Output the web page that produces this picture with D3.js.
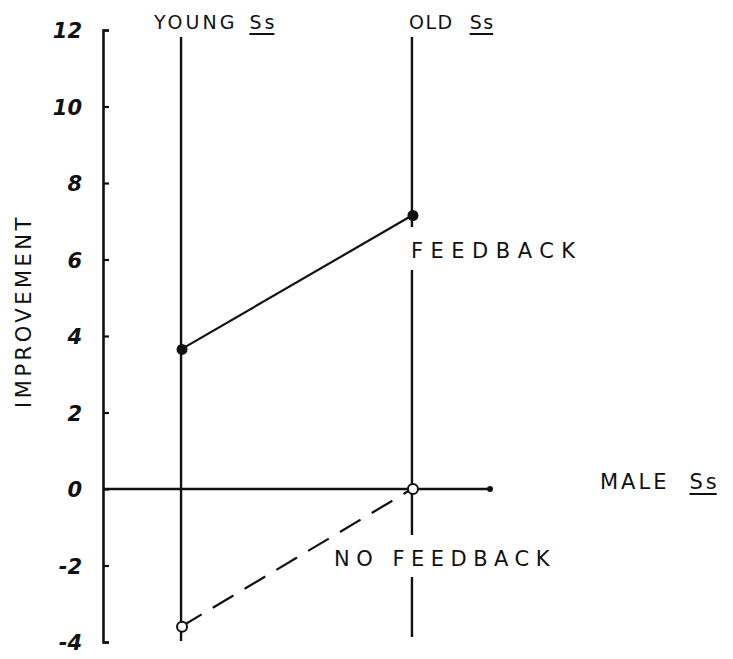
<!DOCTYPE html>
<html>
<head>
<meta charset="utf-8">
<script src="https://cdn.jsdelivr.net/npm/d3@7"></script>
<style>
  body { margin: 0; background: #fff; }
  text { font-family: "DejaVu Sans", sans-serif; fill: #111; }
</style>
</head>
<body>
<div id="chart"></div>
<script>
// chart values
var groups = ["YOUNG", "OLD"];
var feedback = [3.65, 7.15];
var noFeedback = [-3.6, 0];
var yTicks = [12, 10, 8, 6, 4, 2, 0, -2, -4];

var svgWidth = 733;
var svgHeight = 659;

var svg = d3.select("#chart")
  .append("svg")
  .attr("width", svgWidth)
  .attr("height", svgHeight);

// scales
var xScale = d3.scalePoint()
  .domain(groups)
  .range([103, 490])
  .padding(0.338);

var yScale = d3.scaleLinear()
  .domain([-4, 12])
  .range([642, 30]);

// y axis (ticks on the right side of the line)
var leftAxis = d3.axisRight(yScale)
  .tickValues(yTicks)
  .tickSize(6)
  .tickFormat("");

var yAxisG = svg.append("g")
  .attr("transform", "translate(103,0)")
  .call(leftAxis);
yAxisG.select(".domain").attr("stroke", "#111").attr("stroke-width", 2.6);
yAxisG.selectAll(".tick line").attr("stroke", "#111").attr("stroke-width", 2.2);

// tick labels
svg.selectAll(".ylab")
  .data(yTicks)
  .enter()
  .append("text")
  .attr("class", "ylab")
  .attr("x", 82)
  .attr("y", d => yScale(d) + 8)
  .attr("text-anchor", "end")
  .attr("font-size", 21)
  .attr("font-style", "italic")
  .attr("font-weight", "bold")
  .text(d => d < 0 ? "-" + Math.abs(d) : d);

// zero line
svg.append("line")
  .attr("x1", 103).attr("x2", 490)
  .attr("y1", yScale(0)).attr("y2", yScale(0))
  .attr("stroke", "#111").attr("stroke-width", 2.3);
svg.append("circle")
  .attr("cx", 490).attr("cy", yScale(0)).attr("r", 3)
  .attr("fill", "#111");

// vertical group lines (old one is broken around the labels)
var segs = [
  {g: "YOUNG", y1: 37, y2: 641},
  {g: "OLD", y1: 37, y2: 227},
  {g: "OLD", y1: 270, y2: 535},
  {g: "OLD", y1: 577, y2: 637}
];
svg.selectAll(".vline")
  .data(segs)
  .enter()
  .append("line")
  .attr("class", "vline")
  .attr("x1", d => xScale(d.g)).attr("x2", d => xScale(d.g))
  .attr("y1", d => d.y1).attr("y2", d => d.y2)
  .attr("stroke", "#111").attr("stroke-width", 2.4);

// series lines
var line = d3.line()
  .x((d, i) => xScale(groups[i]))
  .y(d => yScale(d));

svg.append("path")
  .datum(feedback)
  .attr("d", line)
  .attr("fill", "none")
  .attr("stroke", "#111")
  .attr("stroke-width", 2.2);

svg.append("path")
  .datum(noFeedback)
  .attr("d", line)
  .attr("fill", "none")
  .attr("stroke", "#111")
  .attr("stroke-width", 2.2)
  .attr("stroke-dasharray", "24,13");

svg.selectAll(".fbpt")
  .data(feedback)
  .enter()
  .append("circle")
  .attr("class", "fbpt")
  .attr("cx", (d, i) => xScale(groups[i]) + 1)
  .attr("cy", d => yScale(d))
  .attr("r", 5.5)
  .attr("fill", "#111");

svg.selectAll(".nfpt")
  .data(noFeedback)
  .enter()
  .append("circle")
  .attr("class", "nfpt")
  .attr("cx", (d, i) => xScale(groups[i]) + 1)
  .attr("cy", d => yScale(d))
  .attr("r", 5)
  .attr("fill", "#fff")
  .attr("stroke", "#111")
  .attr("stroke-width", 2);

// labels; "Ss" gets a hand-drawn style underline
function label(x, y, main, sub, size, spacing, gap) {
  var t = svg.append("text")
    .attr("x", x).attr("y", y)
    .attr("font-size", size)
    .attr("letter-spacing", spacing);
  t.append("tspan").text(main);
  if (sub) {
    var s = t.append("tspan").attr("dx", gap).text(sub);
    var box = s.node().getBBox();
    svg.append("line")
      .attr("x1", box.x).attr("x2", box.x + box.width - spacing)
      .attr("y1", y + 5).attr("y2", y + 5)
      .attr("stroke", "#111").attr("stroke-width", 2);
  }
  return t;
}

label(154, 29, "YOUNG", "Ss", 19, 3, 12);
label(409, 29, "OLD", "Ss", 19, 1.5, 16);
label(600, 489, "MALE", "Ss", 21, 3, 20);
label(411, 258, "FEEDBACK", null, 21, 7.5);
label(334, 566, "NO FEEDBACK", null, 21, 6.5);

// y axis title
svg.append("text")
  .attr("transform", "translate(31,311) rotate(-90)")
  .attr("text-anchor", "middle")
  .attr("font-size", 21)
  .attr("letter-spacing", 3.5)
  .text("IMPROVEMENT");
</script>
</body>
</html>
